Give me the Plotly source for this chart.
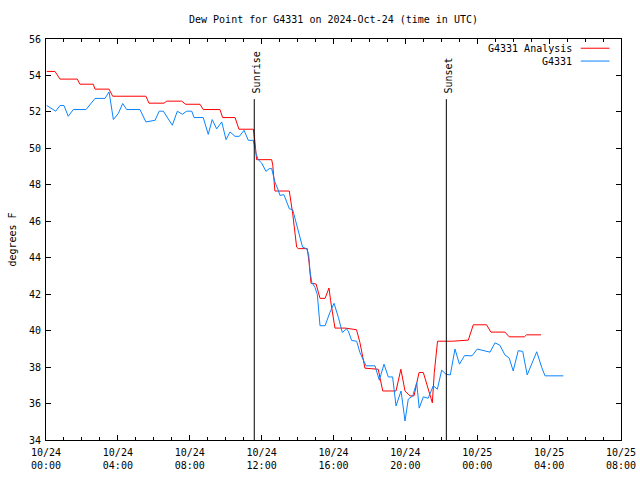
import plotly.graph_objects as go
import pandas as pd

# ---- data (hours after 2024-10-24 00:00 UTC, dew point in deg F) ----
red_hours = [0.04, 0.50, 0.78, 1.74, 1.89, 2.63, 2.73, 3.51, 3.71, 5.56, 5.73, 6.57, 6.72, 7.55,
             7.77, 8.57, 8.75, 9.68, 9.83, 10.52, 10.74, 11.54, 11.63, 11.72, 12.56, 12.62, 12.74,
             13.54, 13.73, 13.95, 14.04, 14.54, 14.64, 14.75, 15.03, 15.25, 15.53, 15.75, 15.84,
             16.08, 16.64, 17.28, 17.47, 17.75, 18.49, 18.74, 19.48, 19.75, 19.98, 20.26, 20.48,
             20.76, 21.00, 21.27, 21.50, 21.61, 21.79, 22.63, 23.50, 23.78, 24.52, 24.76, 25.54,
             25.78, 26.62, 26.75, 27.55]
red_vals = [54.22, 54.22, 53.80, 53.80, 53.52, 53.52, 53.25, 53.25, 52.86, 52.86, 52.48, 52.48,
            52.59, 52.59, 52.42, 52.42, 52.13, 52.13, 51.69, 51.69, 51.05, 51.05, 50.35, 49.38,
            49.38, 49.07, 47.66, 47.66, 46.41, 44.58, 44.50, 44.50, 43.75, 42.60, 42.56, 41.77,
            41.77, 42.34, 41.64, 40.14, 40.14, 40.05, 39.35, 37.94, 37.88, 36.69, 36.69, 37.88,
            36.69, 36.42, 36.42, 37.70, 37.70, 36.87, 36.04, 37.70, 39.42, 39.42, 39.48, 40.32,
            40.32, 39.92, 39.92, 39.66, 39.66, 39.77, 39.77]

blue_hours = [0.04, 0.22, 0.54, 0.78, 1.00, 1.24, 1.52, 2.23, 2.73, 3.28, 3.51, 3.75, 4.02, 4.27,
              4.49, 5.23, 5.56, 6.07, 6.30, 6.53, 7.03, 7.31, 7.58, 7.83, 8.11, 8.24, 8.75, 9.03,
              9.25, 9.50, 9.78, 10.02, 10.24, 10.52, 10.76, 11.02, 11.26, 11.54, 11.69, 11.81,
              12.00, 12.24, 12.43, 12.56, 12.74, 12.93, 13.02, 13.24, 13.54, 13.73, 13.95, 14.13,
              14.28, 14.51, 14.62, 14.69, 14.79, 14.97, 15.10, 15.25, 15.53, 15.80, 16.03, 16.27,
              16.49, 16.73, 16.84, 17.01, 17.29, 17.47, 17.62, 17.81, 18.31, 18.55, 18.81, 19.05,
              19.29, 19.48, 19.76, 19.98, 20.16, 20.41, 20.63, 20.77, 21.00, 21.27, 21.55, 21.78,
              22.02, 22.26, 22.50, 22.76, 23.01, 23.29, 23.71, 24.00, 24.71, 24.99, 25.26, 25.54,
              25.78, 26.00, 26.28, 26.53, 26.78, 27.31, 27.59, 27.77, 28.79]
blue_vals = [52.35, 52.24, 52.04, 52.35, 52.35, 51.76, 52.13, 52.13, 52.74, 52.74, 53.10, 51.58,
             51.91, 52.46, 52.13, 52.13, 51.45, 51.54, 52.04, 52.04, 51.27, 52.04, 51.87, 52.04,
             52.04, 51.69, 51.69, 50.77, 51.58, 51.07, 51.45, 50.48, 50.90, 50.66, 50.66, 50.99,
             50.44, 50.44, 49.71, 49.38, 49.20, 48.74, 48.89, 48.89, 48.15, 47.70, 47.42, 47.46,
             46.69, 46.63, 45.77, 45.13, 44.58, 44.49, 44.17, 43.29, 42.65, 42.37, 41.97, 40.27,
             40.27, 41.00, 41.50, 40.73, 39.90, 40.10, 39.94, 39.46, 39.42, 38.80, 38.44, 38.07,
             38.07, 37.28, 38.16, 37.46, 37.46, 35.87, 36.69, 35.04, 36.24, 36.42, 37.15, 35.75,
             36.37, 36.29, 36.97, 36.79, 37.83, 37.61, 37.57, 38.99, 38.16, 38.63, 38.62, 38.99,
             38.82, 39.33, 39.20, 38.67, 38.49, 37.79, 38.90, 38.86, 37.57, 38.84, 37.98, 37.52,
             37.52]

sunrise_hour = 11.59
sunset_hour = 22.28
event_line_top = 52.7

series_names = ["G4331 Analysis", "G4331"]
series_colors = ["#ff0000", "#0a84ff"]
title_text = "Dew Point for G4331 on 2024-Oct-24 (time in UTC)"
y_label = "degrees F"
y_range = [34, 56]
x_span_hours = 32

base = pd.Timestamp("2024-10-24 00:00")


def to_time(hs):
    return [base + pd.Timedelta(hours=h) for h in hs]


FONT = "DejaVu Sans Mono"

fig = go.Figure()
fig.add_trace(go.Scatter(x=to_time(red_hours), y=red_vals, mode="lines", name=series_names[0],
                         line=dict(color=series_colors[0], width=1)))
fig.add_trace(go.Scatter(x=to_time(blue_hours), y=blue_vals, mode="lines", name=series_names[1],
                         line=dict(color=series_colors[1], width=1)))

for h, label in [(sunrise_hour, "Sunrise"), (sunset_hour, "Sunset")]:
    t = base + pd.Timedelta(hours=h)
    fig.add_shape(type="line", xref="x", yref="y", x0=t, x1=t, y0=y_range[0], y1=event_line_top,
                  line=dict(color="black", width=1))
    fig.add_annotation(x=t, y=event_line_top, xref="x", yref="y", text=label, textangle=-90,
                       showarrow=False, xanchor="center", yanchor="bottom", yshift=4, xshift=2,
                       font=dict(family=FONT, size=10, color="black"))

# manual legend (text then line sample, like the reference)
legend_rows_y = [0.977, 0.945]
for name, color, ly in zip(series_names, series_colors, legend_rows_y):
    fig.add_annotation(x=0.918, y=ly, xref="paper", yref="paper", text=name, showarrow=False,
                       xanchor="right", yanchor="middle",
                       font=dict(family=FONT, size=10, color="black"))
    fig.add_shape(type="line", xref="paper", yref="paper", x0=0.930, x1=0.980, y0=ly, y1=ly,
                  line=dict(color=color, width=1))

fig.update_layout(
    width=640, height=480,
    margin=dict(l=46, r=19, t=39, b=40, autoexpand=False),
    paper_bgcolor="white", plot_bgcolor="white",
    showlegend=False,
    font=dict(family=FONT, size=10, color="black"),
    title=dict(text=title_text, x=0.5, xref="paper", y=1 - 19 / 480, yanchor="middle",
               font=dict(family=FONT, size=10, color="black")),
)
fig.update_xaxes(
    type="date", automargin=False,
    range=[base, base + pd.Timedelta(hours=x_span_hours)],
    tickmode="linear", tick0=base, dtick=4 * 3600 * 1000,
    tickformat="%m/%d<br>%H:%M",
    ticks="inside", ticklen=5, tickcolor="black", tickwidth=1,
    ticklabelstandoff=3,
    minor=dict(dtick=3600 * 1000, ticks="inside", ticklen=3, tickcolor="black", showgrid=False),
    showline=True, linecolor="black", linewidth=1, mirror="ticks",
    showgrid=False, zeroline=False,
    tickfont=dict(family=FONT, size=10, color="black"),
)
fig.update_yaxes(
    automargin=False,
    range=y_range, tickmode="linear", tick0=34, dtick=2,
    ticks="inside", ticklen=5, tickcolor="black", tickwidth=1,
    ticklabelstandoff=2,
    showline=True, linecolor="black", linewidth=1, mirror="ticks",
    showgrid=False, zeroline=False,
    title=dict(text=y_label, font=dict(family=FONT, size=10, color="black"), standoff=10),
    tickfont=dict(family=FONT, size=10, color="black"),
)

fig.write_html("out.html")
